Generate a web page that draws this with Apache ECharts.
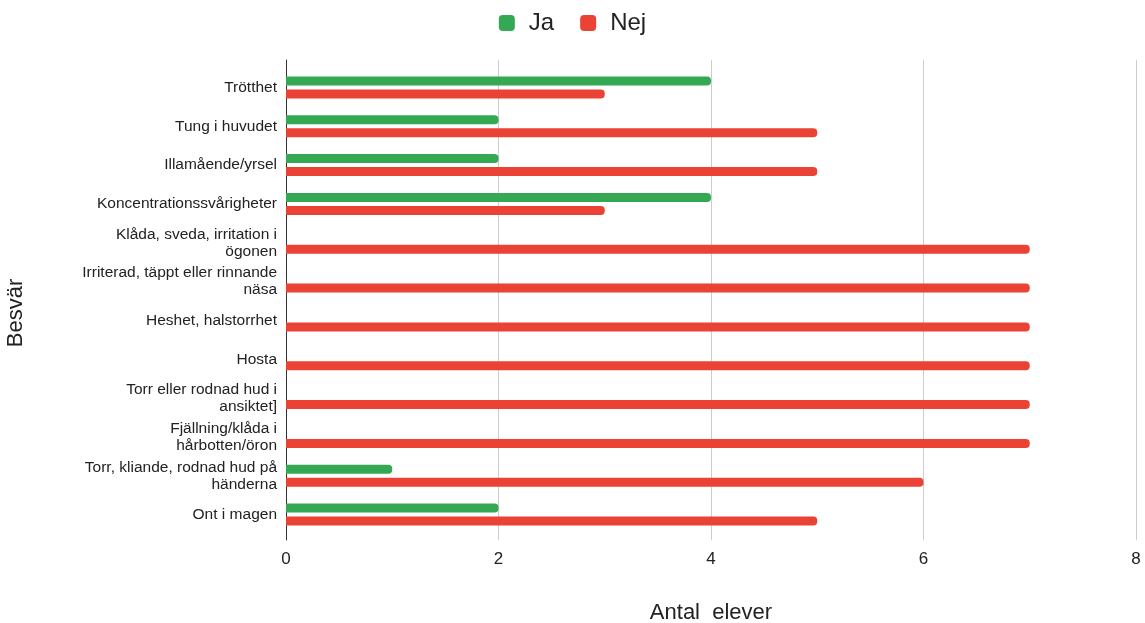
<!DOCTYPE html>
<html>
<head>
<meta charset="utf-8">
<script src="https://cdn.jsdelivr.net/npm/echarts@6/dist/echarts.min.js"></script>
<style>
  html, body { margin: 0; padding: 0; background: #fff; }
  #chart { width: 1145px; height: 623px; }
</style>
</head>
<body>
<div id="chart"></div>
<script>
// Symptoms (Besvär), listed top to bottom
const categories = [
  'Trötthet',
  'Tung i huvudet',
  'Illamående/yrsel',
  'Koncentrationssvårigheter',
  'Klåda, sveda, irritation i\nögonen',
  'Irriterad, täppt eller rinnande\nnäsa',
  'Heshet, halstorrhet',
  'Hosta',
  'Torr eller rodnad hud i\nansiktet]',
  'Fjällning/klåda i\nhårbotten/öron',
  'Torr, kliande, rodnad hud på\nhänderna',
  'Ont i magen'
];
// Number of pupils answering "Ja" / "Nej"
const jaValues  = [4, 2, 2, 4, 0, 0, 0, 0, 0, 0, 1, 2];
const nejValues = [3, 5, 5, 3, 7, 7, 7, 7, 7, 7, 6, 5];
const xTicks = [0, 2, 4, 6, 8];

const FONT = '"Liberation Sans", Arial, sans-serif';
const chart = echarts.init(document.getElementById('chart'), null, { renderer: 'canvas' });

chart.setOption({
  animation: false,
  textStyle: { fontFamily: FONT },
  legend: {
    top: 6,
    left: 'center',
    itemWidth: 16,
    itemHeight: 16,
    itemGap: 26,
    icon: 'roundRect',
    textStyle: { fontSize: 24, color: '#222', fontFamily: FONT, padding: [0, 0, 0, 9] },
    data: ['Ja', 'Nej']
  },
  grid: [
    // frame: gridlines, axis line, tick labels and titles
    { left: 286, right: 9, top: 60, bottom: 83, outerBoundsMode: 'none', containLabel: false },
    // bars and category labels
    { left: 286, right: 9, top: 68, bottom: 89, outerBoundsMode: 'none', containLabel: false }
  ],
  xAxis: [
    {
      gridIndex: 0,
      type: 'value',
      min: xTicks[0],
      max: xTicks[xTicks.length - 1],
      interval: 2,
      name: 'Antal  elever',
      nameLocation: 'middle',
      nameGap: 62,
      nameTextStyle: { fontSize: 22, color: '#222', fontFamily: FONT },
      axisLine: { show: false },
      axisTick: { show: false },
      axisLabel: { fontSize: 17, color: '#222', margin: 11, fontFamily: FONT },
      splitLine: { show: true, lineStyle: { color: '#cccccc', width: 1 } }
    },
    {
      gridIndex: 1,
      type: 'value',
      min: xTicks[0],
      max: xTicks[xTicks.length - 1],
      show: false,
      splitLine: { show: false }
    }
  ],
  yAxis: [
    {
      gridIndex: 0,
      type: 'category',
      data: categories,
      inverse: true,
      name: 'Besvär',
      nameLocation: 'middle',
      nameGap: 259,
      nameRotate: 90,
      nameTextStyle: { fontSize: 22, color: '#222', fontFamily: FONT, padding: [0, 26, 0, 0] },
      axisLine: { show: true, onZero: false, lineStyle: { color: '#333', width: 1 } },
      axisTick: { show: false },
      axisLabel: { show: false },
      splitLine: { show: false }
    },
    {
      gridIndex: 1,
      type: 'category',
      data: categories,
      inverse: true,
      axisLine: { show: false },
      axisTick: { show: false },
      axisLabel: {
        fontSize: 15.5,
        lineHeight: 17,
        color: '#222',
        margin: 9,
        align: 'right',
        fontFamily: FONT
      },
      splitLine: { show: false }
    }
  ],
  series: [
    {
      name: 'Ja',
      type: 'bar',
      xAxisIndex: 1,
      yAxisIndex: 1,
      data: jaValues,
      barWidth: 9,
      barGap: '45%',
      itemStyle: { color: '#34a853', borderRadius: [0, 4, 4, 0] }
    },
    {
      name: 'Nej',
      type: 'bar',
      xAxisIndex: 1,
      yAxisIndex: 1,
      data: nejValues,
      barWidth: 9,
      barGap: '45%',
      itemStyle: { color: '#ea4335', borderRadius: [0, 4, 4, 0] }
    }
  ]
});
</script>
</body>
</html>
